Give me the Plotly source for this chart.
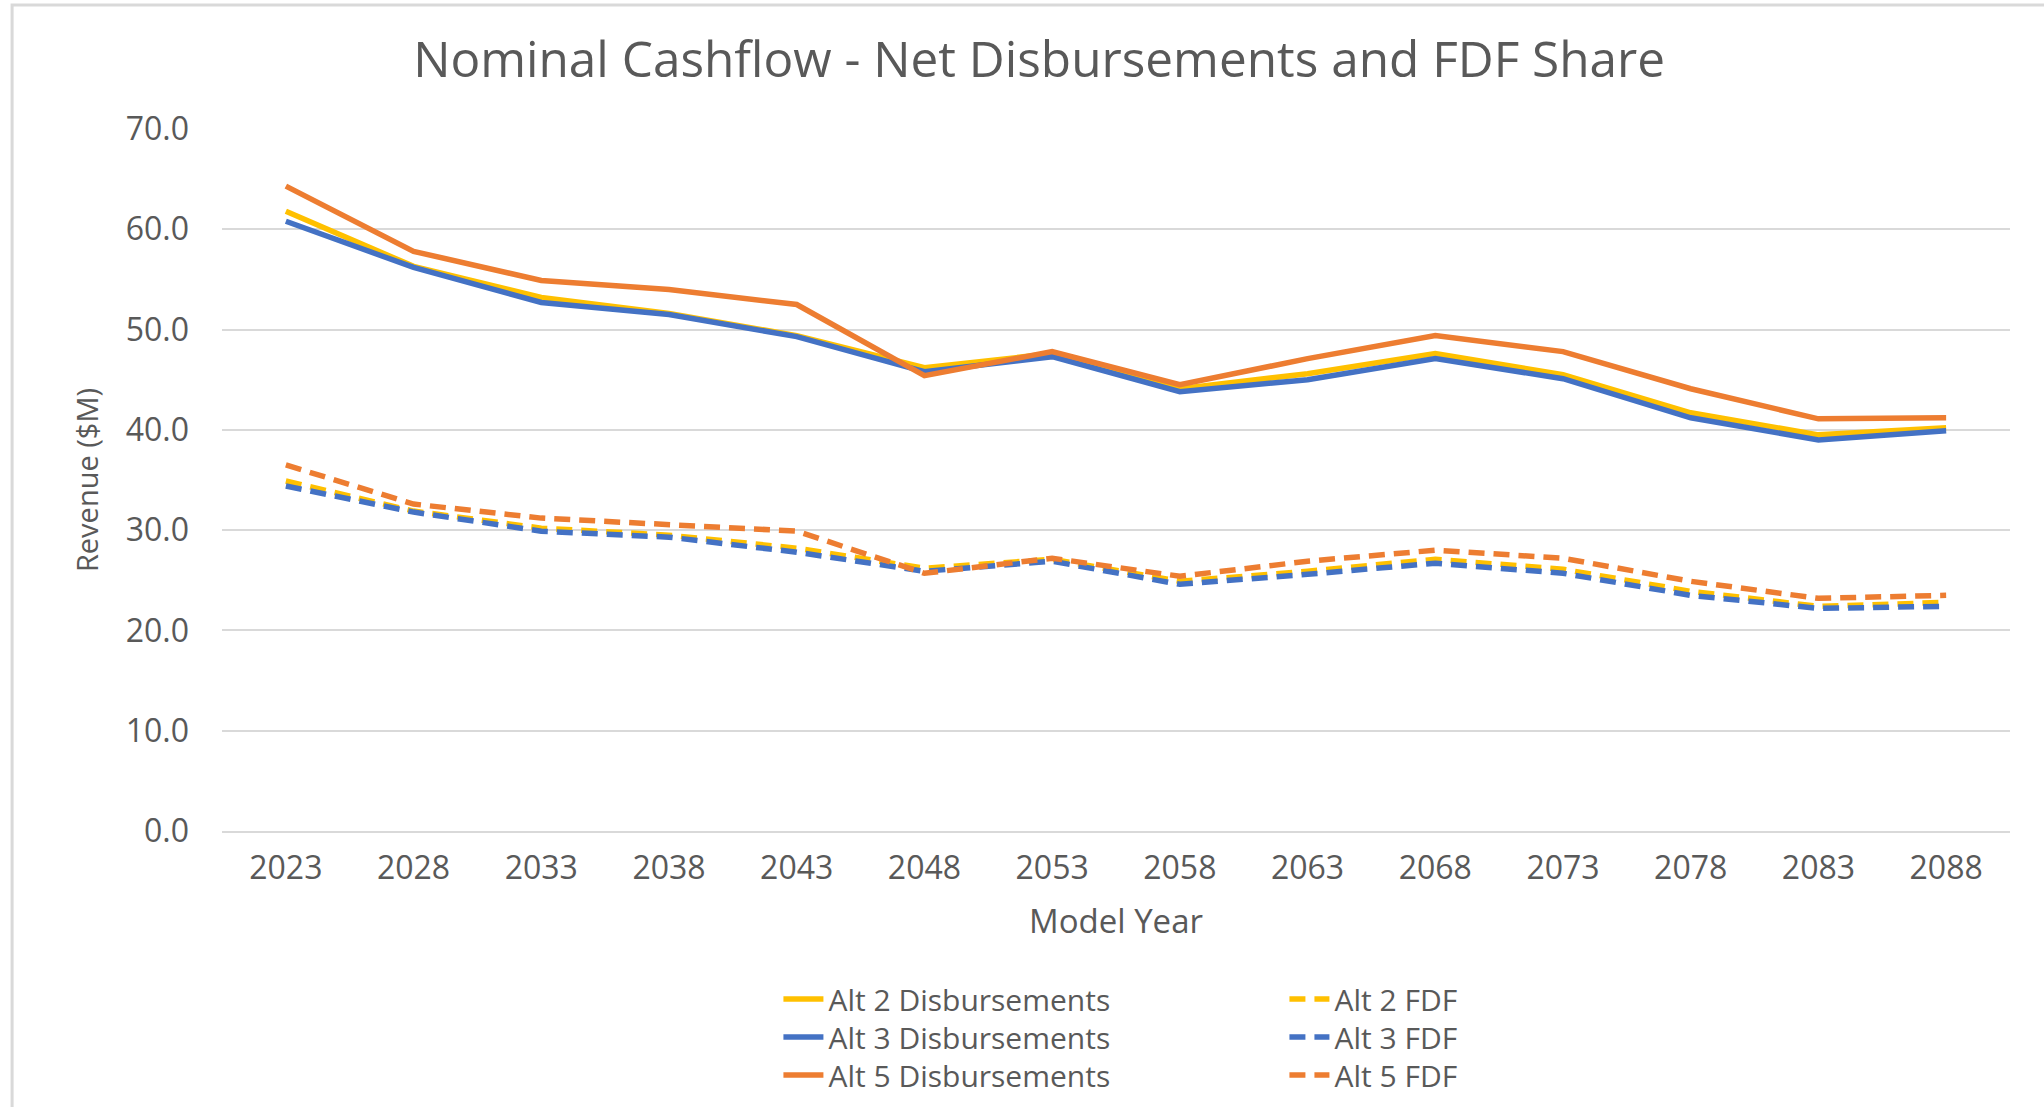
import plotly.graph_objects as go

# model years on the category axis
years = ['2023', '2028', '2033', '2038', '2043', '2048', '2053',
         '2058', '2063', '2068', '2073', '2078', '2083', '2088']

# net disbursements ($M)
alt2_disb = [61.8, 56.3, 53.2, 51.6, 49.4, 46.2, 47.6, 44.1, 45.6, 47.6, 45.5, 41.7, 39.5, 40.2]
alt3_disb = [60.8, 56.2, 52.7, 51.5, 49.3, 45.8, 47.3, 43.8, 45.0, 47.1, 45.1, 41.2, 39.0, 39.9]
alt5_disb = [64.3, 57.8, 54.9, 54.0, 52.5, 45.4, 47.8, 44.5, 47.1, 49.4, 47.8, 44.1, 41.1, 41.2]

# FDF share ($M)
alt2_fdf = [34.9, 31.9, 30.2, 29.5, 28.2, 26.2, 27.1, 24.9, 25.9, 27.1, 26.1, 23.9, 22.4, 22.8]
alt3_fdf = [34.4, 31.8, 29.9, 29.3, 27.8, 25.9, 26.9, 24.6, 25.6, 26.7, 25.7, 23.5, 22.2, 22.4]
alt5_fdf = [36.5, 32.6, 31.2, 30.5, 29.9, 25.7, 27.2, 25.4, 26.9, 28.0, 27.2, 24.9, 23.2, 23.5]

YELLOW = '#FFC000'
BLUE = '#4472C4'
ORANGE = '#ED7D31'
GREY = '#595959'
FONT = 'Open Sans'
DASH = '16px,9px'

# one single-entry legend per slot so the rows sit where Excel put them
series = [
    ('Alt 2 Disbursements', alt2_disb, YELLOW, 'solid', 'legend'),
    ('Alt 3 Disbursements', alt3_disb, BLUE, 'solid', 'legend2'),
    ('Alt 5 Disbursements', alt5_disb, ORANGE, 'solid', 'legend3'),
    ('Alt 2 FDF', alt2_fdf, YELLOW, DASH, 'legend4'),
    ('Alt 3 FDF', alt3_fdf, BLUE, DASH, 'legend5'),
    ('Alt 5 FDF', alt5_fdf, ORANGE, DASH, 'legend6'),
]

fig = go.Figure()
for name, vals, color, dash, leg in series:
    fig.add_trace(go.Scatter(
        x=years, y=vals, mode='lines', name=name,
        line=dict(color=color, width=5.5, dash=dash),
        legend=leg,
    ))

def leg(x, y):
    return dict(
        x=x, y=y, xanchor='left', yanchor='middle', orientation='v',
        font=dict(family=FONT, size=30, color=GREY),
        bgcolor='rgba(0,0,0,0)', itemwidth=40,
    )

row_y = [-0.2393, -0.2934, -0.3476]
col_x = [0.3112, 0.5942]

fig.update_layout(
    width=2044, height=1107,
    margin=dict(l=222, r=34, t=129, b=276, autoexpand=False),
    paper_bgcolor='white', plot_bgcolor='white',
    font=dict(family=FONT, color=GREY),
    title=dict(
        text='Nominal Cashflow - Net Disbursements and FDF Share',
        font=dict(family=FONT, size=49.5, color=GREY),
        x=0.457, xref='paper', xanchor='center',
        y=0.9458, yref='container', yanchor='middle',
    ),
    xaxis=dict(
        type='category', range=[-0.5, 13.5],
        showgrid=False, showline=True,
        linecolor='#D9D9D9', linewidth=2, ticks='',
        tickfont=dict(family=FONT, size=32, color=GREY),
        ticklabelstandoff=8,
        title=dict(text='Model Year', standoff=22,
                   font=dict(family=FONT, size=33, color=GREY)),
    ),
    yaxis=dict(
        range=[0, 70], dtick=10, tickformat='.1f',
        showgrid=True, gridcolor='#D9D9D9', gridwidth=2,
        zeroline=False, showline=False, ticks='',
        tickfont=dict(family=FONT, size=32, color=GREY),
        ticklabelstandoff=32,
        title=dict(text='Revenue ($M)', standoff=18,
                   font=dict(family=FONT, size=29, color=GREY)),
    ),
    legend=leg(col_x[0], row_y[0]),
    legend2=leg(col_x[0], row_y[1]),
    legend3=leg(col_x[0], row_y[2]),
    legend4=leg(col_x[1], row_y[0]),
    legend5=leg(col_x[1], row_y[1]),
    legend6=leg(col_x[1], row_y[2]),
    showlegend=True,
    shapes=[dict(
        type='rect', xref='paper', yref='paper',
        x0=-0.1174, x1=1.2, y0=-0.7, y1=1.1766,
        line=dict(color='#D9D9D9', width=3), layer='below',
    )],
)

# drop the default 8px body margin so the figure fills the window exactly
fig.write_html('out.html', config={'displayModeBar': False},
               post_script="document.body.style.margin = '0';")
